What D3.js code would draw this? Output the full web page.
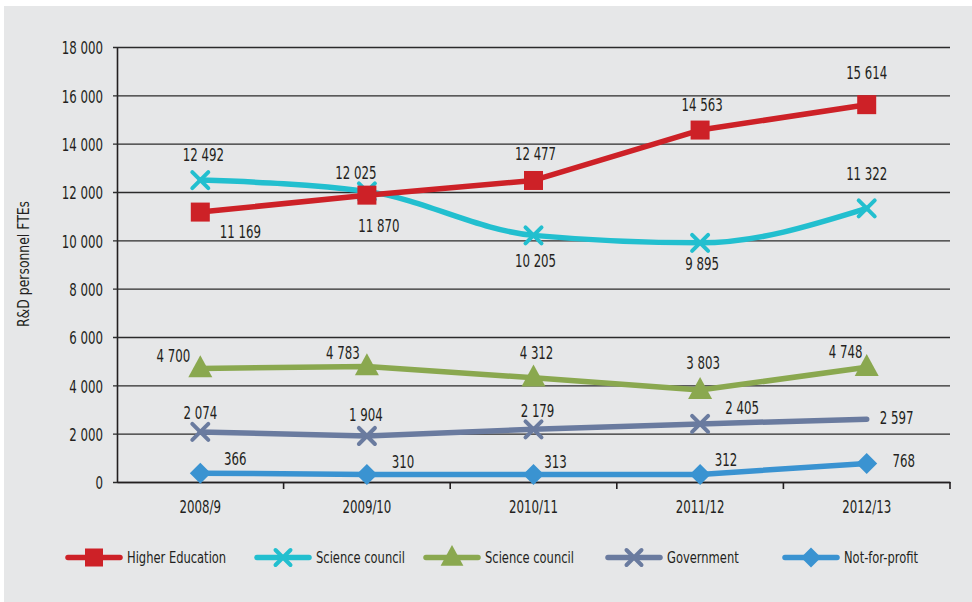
<!DOCTYPE html>
<html><head><meta charset="utf-8">
<script src="https://cdn.jsdelivr.net/npm/d3@7/dist/d3.min.js"></script>
<style>
body{margin:0;background:#fff}
text{font-family:'DejaVu Sans Condensed','Liberation Sans Narrow',sans-serif;fill:#231f20}
</style></head>
<body><svg id="chart" width="972" height="602"></svg>
<script>
// ---- data ----
const categories = ["2008/9", "2009/10", "2010/11", "2011/12", "2012/13"];
const seriesNames = ["Higher Education", "Science council", "Science council", "Government", "Not-for-profit"];
const higherEducation = [11169, 11870, 12477, 14563, 15614];
const scienceCouncilA = [12492, 12025, 10205, 9895, 11322];
const scienceCouncilB = [4700, 4783, 4312, 3803, 4748];
const government = [2074, 1904, 2179, 2405, 2597];
const notForProfit = [366, 310, 313, 312, 768];
const yTicks = [0, 2000, 4000, 6000, 8000, 10000, 12000, 14000, 16000, 18000];
const yTitle = "R&D personnel FTEs";

// ---- styles / layout ----
const colors = ["#cd2127", "#22bfcf", "#8aa84f", "#6a7b9f", "#3a93d1"];
const markers = ["square", "x", "triangle", "x", "diamond"];
const curves = [d3.curveLinear, d3.curveMonotoneX, d3.curveLinear, d3.curveLinear, d3.curveLinear];
const showMarker = [[1,1,1,1,1],[1,1,1,1,1],[1,1,1,1,1],[1,1,1,1,0],[1,1,1,1,1]];
const labelOffsets = [
  [[40,20],[12,31],[2,-27],[2,-25],[0,-32]],
  [[3,-25],[-11,-19],[2,25],[2,21],[0,-35]],
  [[-27,-13],[-24,-14],[3,-25],[3,-27],[-21,-15]],
  [[0,-19],[-1,-21],[4,-18],[42,-16],[30,-1]],
  [[35,-14],[36,-13],[22,-13],[26,-15],[37,-3]]
];
const legendX = [68, 257, 426, 608, 785];
const allValues = [higherEducation, scienceCouncilA, scienceCouncilB, government, notForProfit];

const SX = 0.77;      // horizontal condensing of the number font
const FS = 17;        // number font size

const svg = d3.select("#chart");
svg.append("rect").attr("x", 4).attr("y", 6).attr("width", 968).attr("height", 596).attr("fill", "#e6e7e8");

const mLeft = 117, mRight = 950, mTop = 47, mBottom = 482;
const x = d3.scaleBand().domain(categories).range([mLeft, mRight]);
const cx = c => x(c) + x.bandwidth() / 2;
const y = d3.scaleLinear().domain([0, 18000]).range([mBottom, mTop]);
const fmt = d3.formatLocale({decimal: ".", thousands: " ", grouping: [3], currency: ["", ""]}).format(",");

// y axis with gridlines
const yAxis = svg.append("g").attr("transform", `translate(${mLeft},0)`)
  .call(d3.axisLeft(y).tickValues(yTicks).tickFormat(fmt).tickSizeInner(-(mRight - mLeft)).tickSizeOuter(0).tickPadding(14));
yAxis.select(".domain").attr("stroke", "#231f20").attr("stroke-width", 1.6);
yAxis.selectAll(".tick line").attr("x1", -4).attr("stroke", "#2b2b2b").attr("stroke-width", 1.4);
yAxis.selectAll(".tick text").attr("font-size", FS).attr("dy", "0.4em")
  .attr("x", -14 / SX).attr("transform", `scale(${SX},1)`)
  .style("font-family", "'DejaVu Sans Condensed',sans-serif").attr("fill", "#231f20");

// x axis
const xAxis = svg.append("g").attr("transform", `translate(0,${mBottom})`)
  .call(d3.axisBottom(x).tickSize(0).tickPadding(19));
xAxis.select(".domain").attr("stroke", "#231f20").attr("stroke-width", 1.6);
xAxis.selectAll(".tick text").attr("font-size", FS).attr("transform", `scale(${SX},1)`)
  .style("font-family", "'DejaVu Sans Condensed',sans-serif").attr("fill", "#231f20");
svg.append("g").selectAll("line").data(categories).join("line")
  .attr("x1", d => x(d) + x.bandwidth()).attr("x2", d => x(d) + x.bandwidth())
  .attr("y1", mBottom).attr("y2", mBottom + 7).attr("stroke", "#231f20").attr("stroke-width", 1.6);

// y title
svg.append("text").attr("transform", "translate(29,264) rotate(-90) scale(0.92,1)")
  .attr("text-anchor", "middle").attr("font-size", 15).text(yTitle);

function drawMarker(g, type, color, s) {
  if (type === "square") {
    g.append("rect").attr("x", -s/2).attr("y", -s/2).attr("width", s).attr("height", s).attr("fill", color);
  } else if (type === "x") {
    const h = s / 2;
    g.append("path").attr("d", `M${-h},${-h}L${h},${h}M${-h},${h}L${h},${-h}`)
      .attr("stroke", color).attr("stroke-width", 4).attr("stroke-linecap", "round").attr("fill", "none");
  } else if (type === "triangle") {
    const w = s * 1.2, ht = s * 1.1;
    g.append("path").attr("d", `M0,${-ht*0.6}L${w/2},${ht*0.4}L${-w/2},${ht*0.4}Z`).attr("fill", color);
  } else if (type === "diamond") {
    const h = s / 2 + 1;
    g.append("path").attr("d", `M0,${-h}L${h},0L0,${h}L${-h},0Z`).attr("fill", color);
  }
}
const markerSize = [19, 16, 20, 16, 19];

// draw series (reverse order so red on top)
const order = [4, 3, 2, 1, 0];
order.forEach(i => {
  const vals = allValues[i];
  const pts = categories.map((c, j) => ({c, v: vals[j], j}));
  const g = svg.append("g");
  g.append("path").datum(pts)
    .attr("d", d3.line().x(d => cx(d.c)).y(d => y(d.v)).curve(curves[i]))
    .attr("fill", "none").attr("stroke", colors[i]).attr("stroke-width", 5.5)
    .attr("stroke-linecap", "round").attr("stroke-linejoin", "round");
  pts.forEach(p => {
    if (showMarker[i][p.j]) {
      const mg = g.append("g").attr("transform", `translate(${cx(p.c)},${y(p.v)})`);
      drawMarker(mg, markers[i], colors[i], markerSize[i]);
    }
  });
});
// labels on top
allValues.forEach((vals, i) => {
  svg.append("g").selectAll("text").data(vals).join("text")
    .attr("transform", (v, j) => `translate(${cx(categories[j]) + labelOffsets[i][j][0]},${y(v) + labelOffsets[i][j][1]}) scale(${SX},1)`)
    .attr("dy", "0.36em").attr("text-anchor", "middle").attr("font-size", FS)
    .text(v => fmt(v));
});

// legend
const ly = 557.5;
seriesNames.forEach((name, i) => {
  const g = svg.append("g").attr("transform", `translate(${legendX[i]},${ly})`);
  g.append("line").attr("x1", 0).attr("x2", 52).attr("stroke", colors[i]).attr("stroke-width", 5.5).attr("stroke-linecap", "round");
  const mg = g.append("g").attr("transform", "translate(26,0)");
  drawMarker(mg, markers[i], colors[i], markerSize[i] - 1);
  g.append("text").attr("transform", "translate(59,0) scale(0.8,1)").attr("dy", "0.36em").attr("font-size", 16).text(name);
});
</script>
</body></html>
